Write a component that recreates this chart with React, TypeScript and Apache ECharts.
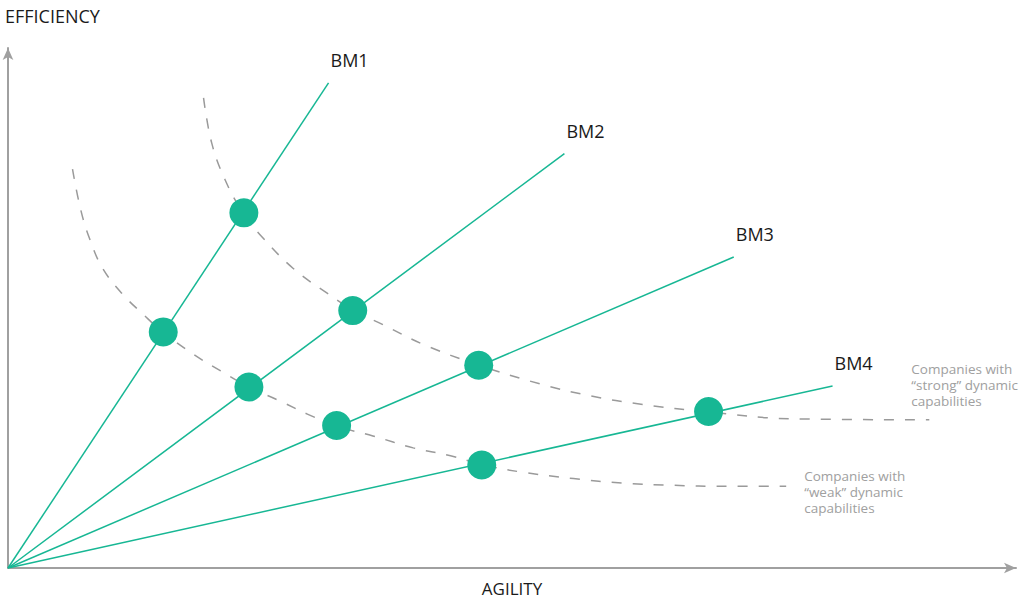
import React, { useEffect, useRef } from "react";
import * as echarts from "echarts";

// Business model rays: end points (x = agility, y = efficiency)
const bmNames = ["BM1", "BM2", "BM3", "BM4"];
const bmEnds: [number, number][] = [
  [31.8, 93.3],
  [55.2, 79.7],
  [72.0, 59.8],
  [81.8, 35.0],
];
// Intersection dots on each ray
const strongDots: [number, number][] = [
  [23.4, 68.3],
  [34.2, 49.5],
  [46.7, 39.0],
  [69.5, 30.1],
];
const weakDots: [number, number][] = [
  [15.4, 45.4],
  [23.9, 34.8],
  [32.6, 27.4],
  [47.0, 19.8],
];
// Iso-capability curves
const strongCurve: [number, number][] = [
  [19.4, 90.4], [20.2, 81.8], [21.5, 74.8], [23.3, 68.3], [25.0, 64.1],
  [28.3, 57.6], [31.7, 52.8], [34.3, 49.5], [37.2, 46.8], [41.2, 43.0],
  [46.7, 39.0], [52.8, 35.4], [57.8, 33.1], [62.8, 31.5], [69.5, 30.0],
  [77.7, 28.7], [91.4, 28.5],
];
const weakCurve: [number, number][] = [
  [6.4, 76.7], [7.2, 69.0], [8.1, 63.3], [9.4, 57.6], [11.4, 52.6],
  [13.4, 48.8], [15.4, 45.3], [18.4, 41.1], [21.1, 37.9], [23.9, 34.8],
  [27.0, 32.1], [29.7, 29.6], [32.6, 27.3], [36.2, 25.4], [40.2, 23.1],
  [43.9, 21.6], [47.0, 19.9], [51.1, 18.4], [56.1, 17.2], [61.1, 16.3],
  [66.0, 15.9], [71.0, 15.7], [77.2, 15.7],
];
const strongLabel = "Companies with\n\u201cstrong\u201d dynamic\ncapabilities";
const weakLabel = "Companies with\n\u201cweak\u201d dynamic\ncapabilities";
const xTitle = "AGILITY";
const yTitle = "EFFICIENCY";

const TEAL = "#17b794";
const GRAY = "#a0a0a0";
const FONT = "'Open Sans', 'Noto Sans', sans-serif";

export default function App() {
  const ref = useRef<HTMLDivElement>(null);
  useEffect(() => {
    document.body.style.margin = "0";
    if (!ref.current) return;
    const chart = echarts.init(ref.current, undefined, { renderer: "svg" });
    const axisCommon = {
      type: "value" as const,
      min: 0,
      max: 100,
      axisTick: { show: false },
      axisLabel: { show: false },
      splitLine: { show: false },
      axisLine: {
        show: true,
        symbol: ["none", "arrow"],
        symbolSize: [8, 12],
        lineStyle: { color: GRAY, width: 2 },
      },
    };
    const rays = bmNames.map((name, i) => ({
      type: "line" as const,
      name,
      data: [[0, 0], bmEnds[i]],
      symbol: "none",
      lineStyle: { color: TEAL, width: 1.5 },
      z: 3,
      endLabel: {
        show: true,
        formatter: name,
        offset: [-6, -23],
        color: "#1a1a1a",
        fontSize: 18,
        fontFamily: FONT,
      },
    }));
    const curveStyle = { color: "#9a9a9a", width: 1.5, type: [10, 11] as any };
    const noteStyle = {
      color: "#a0a0a0",
      fontSize: 13.5,
      lineHeight: 16,
      fontFamily: FONT,
    };
    chart.setOption({
      animation: false,
      title: {
        text: yTitle,
        left: 0,
        top: 2,
        textStyle: { fontSize: 18, fontWeight: "normal", color: "#1a1a1a", fontFamily: FONT },
      },
      grid: {
        left: 8,
        right: 4,
        top: 48,
        bottom: 32,
        containLabel: false,
        outerBoundsMode: "none",
      },
      xAxis: {
        ...axisCommon,
        name: xTitle,
        nameLocation: "middle",
        nameGap: 12,
        nameTextStyle: { fontSize: 17, color: "#1a1a1a", fontFamily: FONT },
      },
      yAxis: { ...axisCommon },
      series: [
        {
          type: "line",
          data: strongCurve,
          smooth: 0.4,
          symbol: "none",
          lineStyle: curveStyle,
          z: 2,
          endLabel: { show: true, formatter: strongLabel, offset: [-26, -35], ...noteStyle },
        },
        {
          type: "line",
          data: weakCurve,
          smooth: 0.4,
          symbol: "none",
          lineStyle: curveStyle,
          z: 2,
          endLabel: { show: true, formatter: weakLabel, offset: [10, 6], ...noteStyle },
        },
        ...rays,
        {
          type: "scatter",
          data: [...strongDots, ...weakDots],
          symbolSize: 29,
          itemStyle: { color: TEAL, opacity: 1 },
          z: 5,
        },
      ],
    });
    return () => chart.dispose();
  }, []);
  return <div ref={ref} style={{ width: 1020, height: 600 }} />;
}
